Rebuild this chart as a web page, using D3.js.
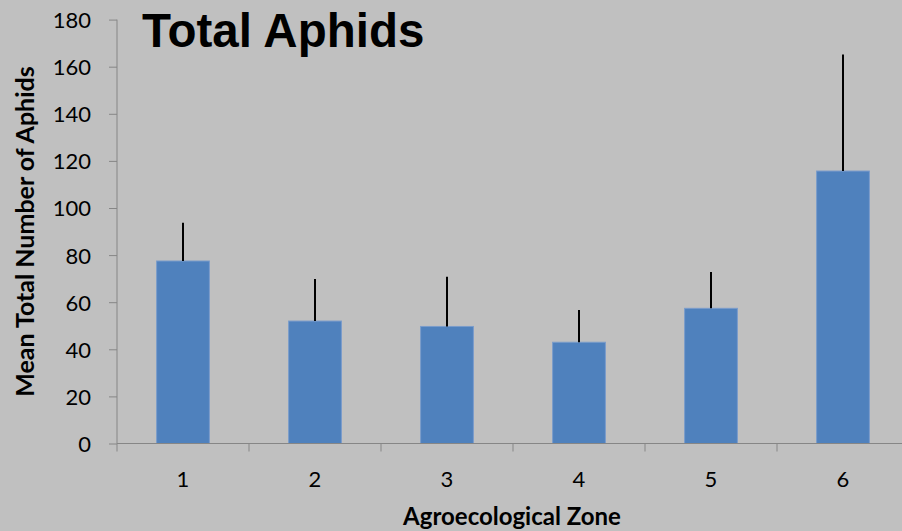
<!DOCTYPE html>
<html lang="en">
<head>
<meta charset="UTF-8">
<script src="https://cdn.jsdelivr.net/npm/d3@7"></script>
<style>
    body{ margin:0; background:#c0c0c0; }
    svg{ display:block; }
    .tick text{ font-family:Lato, "Open Sans", sans-serif; font-size:22px; fill:#000; }
    .tick line, .domain{ stroke:#868686; }
</style>
<title>Total Aphids</title>
</head>
<body>
<script>
    // zones and mean counts with upper error bars
    var zones = ["1","2","3","4","5","6"];
    var means = [77.5, 52, 49.7, 43, 57.4, 115.7];
    var errTops = [93.7, 69.8, 70.8, 56.7, 72.8, 165.2];
    var yTicks = [0,20,40,60,80,100,120,140,160,180];

    var width = 902, height = 531;
    var plotLeft = 117, plotBottom = 443.5, plotTop = 19.6;

    var svg = d3.select("body").append("svg")
        .attr("width", width)
        .attr("height", height);

    svg.append("rect")
        .attr("width", width)
        .attr("height", height)
        .attr("fill", "#c0c0c0");

    var x = d3.scaleBand()
        .domain(zones)
        .range([plotLeft, plotLeft + 6*132])
        .paddingInner(0.6)
        .paddingOuter(0.3);

    var y = d3.scaleLinear()
        .domain([0,180])
        .range([plotBottom, plotTop]);

    // y axis
    var yAxis = svg.append("g")
        .attr("transform", "translate(" + plotLeft + ",0)")
        .call(d3.axisLeft(y).tickValues(yTicks).tickSize(8).tickPadding(18));
    yAxis.select(".domain").attr("d", "M0," + plotBottom + "V" + plotTop);
    yAxis.selectAll(".tick text").attr("dy", "0.36em");

    // bars
    svg.selectAll("rect.bar")
        .data(means)
        .enter()
        .append("rect")
        .attr("class","bar")
        .attr("x", function(d,i){ return x(zones[i]); })
        .attr("y", function(d){ return y(d); })
        .attr("width", x.bandwidth())
        .attr("height", function(d){ return plotBottom - y(d); })
        .attr("fill", "#4f81bd")
        .attr("stroke", "#7a9ccb")
        .attr("stroke-width", 1);

    // error bars
    svg.selectAll("line.err")
        .data(errTops)
        .enter()
        .append("line")
        .attr("class","err")
        .attr("x1", function(d,i){ return x(zones[i]) + x.bandwidth()/2; })
        .attr("x2", function(d,i){ return x(zones[i]) + x.bandwidth()/2; })
        .attr("y1", function(d,i){ return y(means[i]); })
        .attr("y2", function(d){ return y(d); })
        .attr("stroke", "#000")
        .attr("stroke-width", 2);

    // x axis
    var xg = svg.append("g")
        .attr("transform", "translate(0," + plotBottom + ")");
    xg.append("line")
        .attr("x1", plotLeft).attr("x2", width)
        .attr("stroke", "#868686");
    var step = x.step();
    xg.selectAll("line.sep")
        .data(d3.range(zones.length + 1))
        .enter()
        .append("line")
        .attr("class","sep")
        .attr("x1", function(i){ return plotLeft + i*step; })
        .attr("x2", function(i){ return plotLeft + i*step; })
        .attr("y1", 0).attr("y2", 8)
        .attr("stroke", "#868686");
    xg.selectAll("text")
        .data(zones)
        .enter()
        .append("text")
        .attr("x", function(d){ return x(d) + x.bandwidth()/2; })
        .attr("y", 43)
        .attr("text-anchor", "middle")
        .style("font-family", "Lato, 'Open Sans', sans-serif")
        .style("font-size", "22px")
        .text(function(d){ return d; });

    // titles
    svg.append("text")
        .attr("x", 142)
        .attr("y", 47)
        .style("font-family", "'Liberation Sans', Arial, sans-serif")
        .style("font-weight", "bold")
        .style("font-size", "47.5px")
        .text("Total Aphids");

    svg.append("text")
        .attr("x", 512)
        .attr("y", 525)
        .attr("text-anchor", "middle")
        .style("font-family", "Lato, 'Open Sans', sans-serif")
        .style("font-weight", "bold")
        .style("font-size", "24px")
        .text("Agroecological Zone");

    svg.append("text")
        .attr("transform", "translate(34,231.5) rotate(-90)")
        .attr("text-anchor", "middle")
        .style("font-family", "Lato, 'Open Sans', sans-serif")
        .style("font-weight", "bold")
        .style("font-size", "25px")
        .text("Mean Total Number of Aphids");
</script>
</body>
</html>
